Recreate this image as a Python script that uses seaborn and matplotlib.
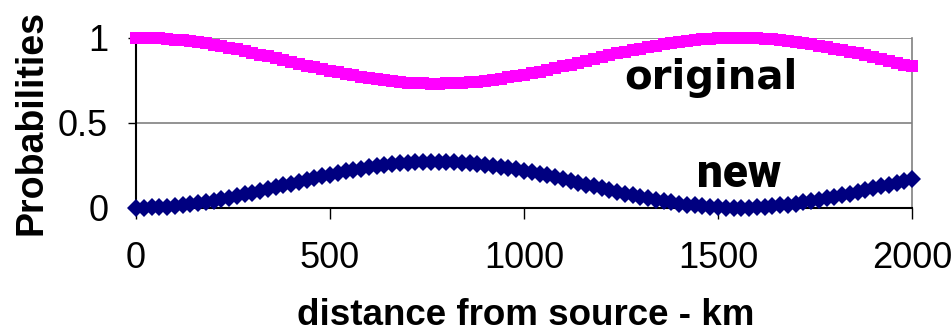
import seaborn as sns
import matplotlib.pyplot as plt
import pandas as pd

# distance grid (km) and probabilities
distance_km = list(range(0, 2001, 20))

original = [
    1.000, 1.000, 0.998, 0.996, 0.993, 0.989, 0.984, 0.979, 0.973, 0.966,
    0.958, 0.950, 0.941, 0.932, 0.922, 0.912, 0.901, 0.891, 0.880, 0.869,
    0.858, 0.847, 0.836, 0.826, 0.816, 0.806, 0.796, 0.787, 0.778, 0.770,
    0.762, 0.756, 0.750, 0.744, 0.740, 0.736, 0.733, 0.731, 0.730, 0.730,
    0.731, 0.732, 0.735, 0.738, 0.742, 0.747, 0.753, 0.759, 0.766, 0.774,
    0.782, 0.791, 0.801, 0.810, 0.821, 0.831, 0.842, 0.853, 0.864, 0.875,
    0.885, 0.896, 0.907, 0.917, 0.927, 0.936, 0.945, 0.954, 0.962, 0.969,
    0.976, 0.982, 0.987, 0.991, 0.995, 0.997, 0.999, 1.000, 1.000, 0.999,
    0.997, 0.995, 0.991, 0.987, 0.982, 0.976, 0.969, 0.962, 0.954, 0.945,
    0.936, 0.927, 0.917, 0.907, 0.896, 0.885, 0.875, 0.864, 0.853, 0.842,
    0.831,
]

new = [
    0.000, 0.000, 0.002, 0.004, 0.007, 0.011, 0.016, 0.021, 0.027, 0.034,
    0.042, 0.050, 0.059, 0.068, 0.078, 0.088, 0.099, 0.109, 0.120, 0.131,
    0.142, 0.153, 0.164, 0.174, 0.184, 0.194, 0.204, 0.213, 0.222, 0.230,
    0.238, 0.244, 0.250, 0.256, 0.260, 0.264, 0.267, 0.269, 0.270, 0.270,
    0.269, 0.268, 0.265, 0.262, 0.258, 0.253, 0.247, 0.241, 0.234, 0.226,
    0.218, 0.209, 0.199, 0.190, 0.179, 0.169, 0.158, 0.147, 0.136, 0.125,
    0.115, 0.104, 0.093, 0.083, 0.073, 0.064, 0.055, 0.046, 0.038, 0.031,
    0.024, 0.018, 0.013, 0.009, 0.005, 0.003, 0.001, 0.000, 0.000, 0.001,
    0.003, 0.005, 0.009, 0.013, 0.018, 0.024, 0.031, 0.038, 0.046, 0.055,
    0.064, 0.073, 0.083, 0.093, 0.104, 0.115, 0.125, 0.136, 0.147, 0.158,
    0.169,
]

x_ticks = [0, 500, 1000, 1500, 2000]
y_ticks = [0, 0.5, 1]
y_tick_labels = ['0', '0.5', '1']

df = pd.DataFrame({'distance': distance_km, 'original': original, 'new': new})

sns.set_theme(style='white')
plt.rcParams['font.family'] = ['Liberation Sans', 'DejaVu Sans']
plt.rcParams['text.color'] = 'black'
plt.rcParams['axes.labelcolor'] = 'black'
plt.rcParams['xtick.color'] = 'black'
plt.rcParams['ytick.color'] = 'black'

fig = plt.figure(figsize=(9.53, 3.35), dpi=100)
ax = fig.add_axes([0.1427, 0.380, 0.8143, 0.5075])

sns.lineplot(data=df, x='distance', y='original', ax=ax, color='#FF00FF',
             marker='s', markersize=8.5, markeredgewidth=0, linewidth=2,
             clip_on=False, zorder=3)
sns.lineplot(data=df, x='distance', y='new', ax=ax, color='#000080',
             marker='D', markersize=9, markeredgewidth=0, linewidth=1.5,
             clip_on=False, zorder=3)

ax.set_xlim(0, 2000)
ax.set_ylim(0, 1)
ax.set_xticks(x_ticks)
ax.set_xticklabels([str(t) for t in x_ticks])
ax.set_yticks(y_ticks)
ax.set_yticklabels(y_tick_labels)

# gray gridlines and right frame, black axes
ax.grid(axis='y', color='#808080', linewidth=1.2)
ax.spines['top'].set_visible(False)
ax.spines['right'].set_color('#808080')
ax.spines['right'].set_linewidth(1.2)
for s in ['left', 'bottom']:
    ax.spines[s].set_color('black')
    ax.spines[s].set_linewidth(1.5)

ax.tick_params(axis='x', direction='out', length=8, width=1,
               labelsize=26, pad=16, bottom=True)
ax.tick_params(axis='y', direction='out', length=6, width=1,
               labelsize=26, pad=14, left=True)

ax.set_xlabel('distance from source - km', fontsize=26.5, fontweight='bold')
ax.xaxis.label.set_va('baseline')
ax.xaxis.set_label_coords(0.5026, -0.69)
ax.set_ylabel('Probabilities', fontsize=27, fontweight='bold', labelpad=6)

ax.text(1481, 0.70, 'original', fontsize=29, fontweight='heavy', ha='center',
        va='baseline', family=['DejaVu Sans'])
ax.text(1553, 0.123, 'new', fontsize=33, fontweight='black', ha='center',
        va='baseline', family=['Roboto', 'DejaVu Sans'])

plt.savefig('out.png', dpi=100)
